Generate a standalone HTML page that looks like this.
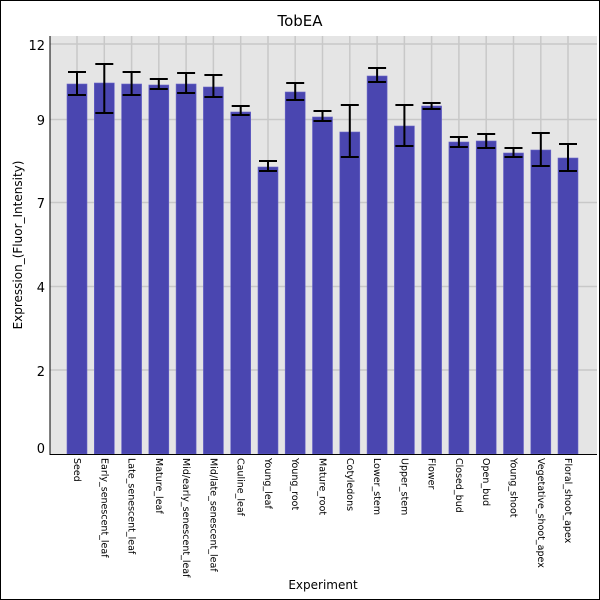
<!DOCTYPE html>
<html><head><style>body{margin:0;background:#fff}svg{display:block}</style></head><body>
<svg width="600" height="600" xmlns="http://www.w3.org/2000/svg" font-family="DejaVu Sans, Liberation Sans, sans-serif">
<rect x="0.5" y="0.5" width="599" height="599" fill="#fff" stroke="#000"/>
<text x="300" y="26" text-anchor="middle" font-size="15">TobEA</text>
<rect x="50" y="36" width="547" height="418" fill="#e5e5e5"/>
<g stroke="#c8c8c8" stroke-width="1.5">
<line x1="50" x2="597" y1="44" y2="44"/><line x1="50" x2="597" y1="119.5" y2="119.5"/><line x1="50" x2="597" y1="202.5" y2="202.5"/><line x1="50" x2="597" y1="286.5" y2="286.5"/><line x1="50" x2="597" y1="370" y2="370"/>
<line x1="77" x2="77" y1="36" y2="454"/><line x1="104.3" x2="104.3" y1="36" y2="454"/><line x1="131.6" x2="131.6" y1="36" y2="454"/><line x1="158.8" x2="158.8" y1="36" y2="454"/><line x1="186.1" x2="186.1" y1="36" y2="454"/><line x1="213.4" x2="213.4" y1="36" y2="454"/><line x1="240.7" x2="240.7" y1="36" y2="454"/><line x1="268" x2="268" y1="36" y2="454"/><line x1="295.2" x2="295.2" y1="36" y2="454"/><line x1="322.5" x2="322.5" y1="36" y2="454"/><line x1="349.8" x2="349.8" y1="36" y2="454"/><line x1="377.1" x2="377.1" y1="36" y2="454"/><line x1="404.4" x2="404.4" y1="36" y2="454"/><line x1="431.6" x2="431.6" y1="36" y2="454"/><line x1="458.9" x2="458.9" y1="36" y2="454"/><line x1="486.2" x2="486.2" y1="36" y2="454"/><line x1="513.5" x2="513.5" y1="36" y2="454"/><line x1="540.8" x2="540.8" y1="36" y2="454"/><line x1="568" x2="568" y1="36" y2="454"/>
</g>
<g fill="#4a46b0" stroke="#6a66c8" stroke-width="0.6">
<rect x="67" y="84" width="20" height="370"/>
<rect x="94.3" y="83" width="20" height="371"/>
<rect x="121.6" y="84" width="20" height="370"/>
<rect x="148.8" y="85" width="20" height="369"/>
<rect x="176.1" y="84" width="20" height="370"/>
<rect x="203.4" y="87" width="20" height="367"/>
<rect x="230.7" y="112" width="20" height="342"/>
<rect x="258" y="167" width="20" height="287"/>
<rect x="285.2" y="92" width="20" height="362"/>
<rect x="312.5" y="117" width="20" height="337"/>
<rect x="339.8" y="132" width="20" height="322"/>
<rect x="367.1" y="76" width="20" height="378"/>
<rect x="394.4" y="126" width="20" height="328"/>
<rect x="421.6" y="106" width="20" height="348"/>
<rect x="448.9" y="142" width="20" height="312"/>
<rect x="476.2" y="141" width="20" height="313"/>
<rect x="503.5" y="153" width="20" height="301"/>
<rect x="530.8" y="150" width="20" height="304"/>
<rect x="558" y="158" width="20" height="296"/>
</g>
<g stroke="#000" stroke-width="2" fill="none">
<path d="M77 72V95M68 72H86M68 95H86"/>
<path d="M104.3 64V113M95.3 64H113.3M95.3 113H113.3"/>
<path d="M131.6 72V95M122.6 72H140.6M122.6 95H140.6"/>
<path d="M158.8 79V89M149.8 79H167.8M149.8 89H167.8"/>
<path d="M186.1 73V93M177.1 73H195.1M177.1 93H195.1"/>
<path d="M213.4 75V97M204.4 75H222.4M204.4 97H222.4"/>
<path d="M240.7 106V115M231.7 106H249.7M231.7 115H249.7"/>
<path d="M268 161V171M259 161H277M259 171H277"/>
<path d="M295.2 83V100M286.2 83H304.2M286.2 100H304.2"/>
<path d="M322.5 111V121M313.5 111H331.5M313.5 121H331.5"/>
<path d="M349.8 105V157M340.8 105H358.8M340.8 157H358.8"/>
<path d="M377.1 68V82M368.1 68H386.1M368.1 82H386.1"/>
<path d="M404.4 105V146M395.4 105H413.4M395.4 146H413.4"/>
<path d="M431.6 103V109M422.6 103H440.6M422.6 109H440.6"/>
<path d="M458.9 137V147M449.9 137H467.9M449.9 147H467.9"/>
<path d="M486.2 134V148M477.2 134H495.2M477.2 148H495.2"/>
<path d="M513.5 148V157M504.5 148H522.5M504.5 157H522.5"/>
<path d="M540.8 133V166M531.8 133H549.8M531.8 166H549.8"/>
<path d="M568 144V171M559 144H577M559 171H577"/>
</g>
<line x1="50" y1="36" x2="50" y2="455" stroke="#000"/>
<line x1="50" y1="454.5" x2="597" y2="454.5" stroke="#000"/>
<g font-size="13" text-anchor="end">
<text x="45" y="50">12</text><text x="45" y="125">9</text><text x="45" y="208">7</text><text x="45" y="292">4</text><text x="45" y="376">2</text><text x="45" y="453">0</text>
</g>
<text x="323" y="589" text-anchor="middle" font-size="12">Experiment</text>
<text transform="translate(22,245) rotate(-90)" text-anchor="middle" font-size="12">Expression_(Fluor_Intensity)</text>
<g font-size="9.5">
<text transform="translate(74,458) rotate(90)">Seed</text>
<text transform="translate(101.3,458) rotate(90)">Early_senescent_leaf</text>
<text transform="translate(128.6,458) rotate(90)">Late_senescent_leaf</text>
<text transform="translate(155.8,458) rotate(90)">Mature_leaf</text>
<text transform="translate(183.1,458) rotate(90)">Mid/early_senescent_leaf</text>
<text transform="translate(210.4,458) rotate(90)">Mid/late_senescent_leaf</text>
<text transform="translate(237.7,458) rotate(90)">Cauline_leaf</text>
<text transform="translate(265,458) rotate(90)">Young_leaf</text>
<text transform="translate(292.2,458) rotate(90)">Young_root</text>
<text transform="translate(319.5,458) rotate(90)">Mature_root</text>
<text transform="translate(346.8,458) rotate(90)">Cotyledons</text>
<text transform="translate(374.1,458) rotate(90)">Lower_stem</text>
<text transform="translate(401.4,458) rotate(90)">Upper_stem</text>
<text transform="translate(428.6,458) rotate(90)">Flower</text>
<text transform="translate(455.9,458) rotate(90)">Closed_bud</text>
<text transform="translate(483.2,458) rotate(90)">Open_bud</text>
<text transform="translate(510.5,458) rotate(90)">Young_shoot</text>
<text transform="translate(537.8,458) rotate(90)">Vegetative_shoot_apex</text>
<text transform="translate(565,458) rotate(90)">Floral_shoot_apex</text>
</g>
</svg>
</body></html>
